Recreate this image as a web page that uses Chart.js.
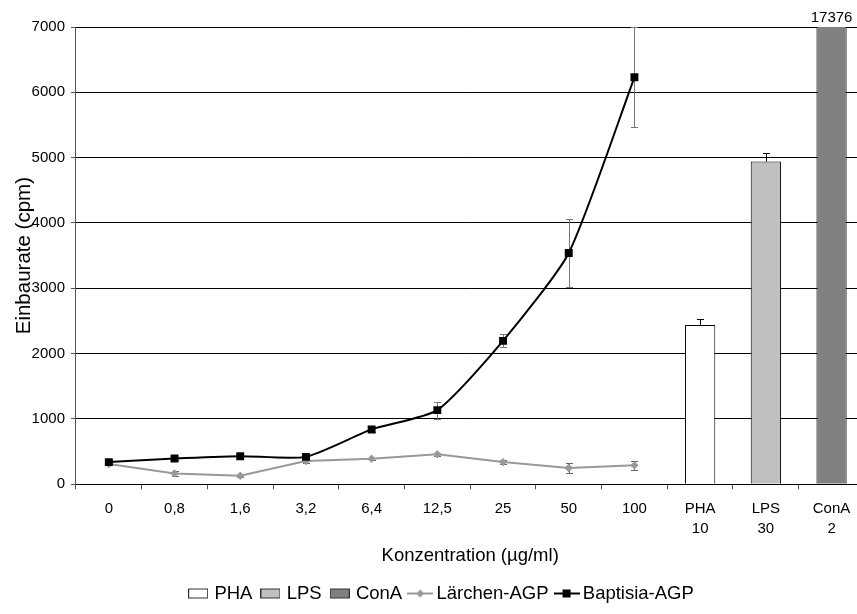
<!DOCTYPE html>
<html>
<head>
<meta charset="utf-8">
<script src="https://cdn.jsdelivr.net/npm/chart.js@4.4.1/dist/chart.umd.min.js"></script>
<style>
html, body { margin: 0; padding: 0; background: #fff; overflow: hidden; }
</style>
</head>
<body>
<canvas id="chart" width="870" height="614"></canvas>
<script>
const categories = ['0', '0,8', '1,6', '3,2', '6,4', '12,5', '25', '50', '100', ['PHA', '10'], ['LPS', '30'], ['ConA', '2']];

const pha      = [null, null, null, null, null, null, null, null, null, 2440, null, null];
const phaErr   = [null, null, null, null, null, null, null, null, null, 90, null, null];
const lps      = [null, null, null, null, null, null, null, null, null, null, 4940, null];
const lpsErr   = [null, null, null, null, null, null, null, null, null, null, 135, null];
const conA     = [null, null, null, null, null, null, null, null, null, null, null, 17376];

const larchen     = [310, 165, 130, 355, 390, 460, 340, 250, 290, null, null, null];
const larchenErr  = [20, 45, 15, 35, 20, 25, 35, 72, 65, null, null, null];
const baptisia    = [340, 395, 430, 420, 840, 1135, 2195, 3540, 6230, null, null, null];
const baptisiaErr = [30, 25, 25, 25, 40, 130, 100, 520, 765, null, null, null];

const yTicks = [0, 1000, 2000, 3000, 4000, 5000, 6000, 7000];

const FONT = '"Liberation Sans", Arial, sans-serif';
Chart.defaults.font.family = FONT;
Chart.defaults.color = '#000';

// little canvases used as legend symbols
function boxIcon(fill) {
    const c = document.createElement('canvas');
    c.width = 20; c.height = 12;
    const g = c.getContext('2d');
    g.fillStyle = fill;
    g.fillRect(1, 1.5, 18, 9);
    g.strokeStyle = '#333';
    g.lineWidth = 1;
    g.strokeRect(0.5, 1.5, 19, 9);
    return c;
}

function lineIcon(color, marker) {
    const c = document.createElement('canvas');
    c.width = 26; c.height = 12;
    const g = c.getContext('2d');
    g.strokeStyle = color;
    g.lineWidth = 2;
    g.beginPath(); g.moveTo(0, 6); g.lineTo(26, 6); g.stroke();
    g.fillStyle = color;
    if (marker === 'square') {
        g.fillRect(9, 2, 8, 8);
    } else {
        g.beginPath(); g.moveTo(13, 2); g.lineTo(17, 6); g.lineTo(13, 10); g.lineTo(9, 6); g.closePath(); g.fill();
    }
    return c;
}

const errorBars = {
    id: 'errorBars',
    beforeDatasetsDraw(chart) {
        const { ctx, scales: { y } } = chart;
        ctx.save();
        chart.data.datasets.forEach((ds, di) => {
            if (!ds.err) return;
            const meta = chart.getDatasetMeta(di);
            ctx.strokeStyle = ds.errColor || '#000';
            ctx.lineWidth = 1;
            ds.data.forEach((v, i) => {
                const e = ds.err[i];
                if (v == null || e == null) return;
                const el = meta.data[i];
                const x = Math.round(el.x) + 0.5;
                const top = Math.round(y.getPixelForValue(v + e)) + 0.5;
                const bot = ds.plusOnly ? y.getPixelForValue(v) : Math.round(y.getPixelForValue(v - e)) + 0.5;
                ctx.beginPath();
                ctx.moveTo(x, top); ctx.lineTo(x, bot);
                ctx.moveTo(x - 3.5, top); ctx.lineTo(x + 3.5, top);
                if (!ds.plusOnly) { ctx.moveTo(x - 3.5, bot); ctx.lineTo(x + 3.5, bot); }
                ctx.stroke();
            });
        });
        ctx.restore();
    }
};

// value of the clipped ConA bar written above it
const clippedLabel = {
    id: 'clippedLabel',
    afterDraw(chart) {
        const { ctx, chartArea } = chart;
        const di = chart.data.datasets.findIndex(d => d.label === 'ConA');
        const meta = chart.getDatasetMeta(di);
        ctx.save();
        ctx.font = '15px ' + FONT;
        ctx.fillStyle = '#000';
        ctx.textAlign = 'center';
        ctx.textBaseline = 'middle';
        conA.forEach((v, i) => {
            if (v == null || v <= yTicks[yTicks.length - 1]) return;
            ctx.fillText(String(v), meta.data[i].x, chartArea.top - 9);
        });
        ctx.restore();
    }
};

const legendItems = [
    { text: 'PHA', icon: boxIcon('#ffffff') },
    { text: 'LPS', icon: boxIcon('#c0c0c0') },
    { text: 'ConA', icon: boxIcon('#808080') },
    { text: 'Lärchen-AGP', icon: lineIcon('#999999', 'diamond') },
    { text: 'Baptisia-AGP', icon: lineIcon('#000000', 'square') }
];

const barStyle = {
    type: 'bar',
    grouped: false,
    borderColor: '#000',
    borderWidth: 1,
    borderSkipped: 'start',
    categoryPercentage: 1,
    barPercentage: 0.46,
    order: 3,
    plusOnly: true,
    errColor: '#000'
};

new Chart(document.getElementById('chart'), {
    type: 'bar',
    data: {
        labels: categories,
        datasets: [
            { ...barStyle, label: 'PHA', data: pha, err: phaErr, backgroundColor: '#ffffff' },
            { ...barStyle, label: 'LPS', data: lps, err: lpsErr, backgroundColor: '#c0c0c0' },
            { ...barStyle, label: 'ConA', data: conA, backgroundColor: '#808080' },
            {
                type: 'line', label: 'Lärchen-AGP', data: larchen, err: larchenErr, errColor: '#666',
                borderColor: '#999999', backgroundColor: '#999999', borderWidth: 2,
                pointStyle: 'rectRot', pointRadius: 4.2, pointBorderWidth: 0, tension: 0, order: 1
            },
            {
                type: 'line', label: 'Baptisia-AGP', data: baptisia, err: baptisiaErr, errColor: '#777',
                borderColor: '#000', backgroundColor: '#000', borderWidth: 2,
                pointStyle: 'rect', pointRadius: 5.6, pointBorderWidth: 0,
                tension: 0.2, order: 0
            }
        ]
    },
    options: {
        responsive: false,
        devicePixelRatio: 1,
        animation: false,
        layout: { padding: { left: 16, right: 1, top: 27, bottom: 1.25 } },
        plugins: {
            tooltip: { enabled: false },
            legend: {
                position: 'bottom',
                labels: {
                    usePointStyle: true,
                    pointStyleWidth: 14,
                    padding: 11,
                    color: '#000',
                    font: { size: 18.5 },
                    generateLabels: () => legendItems.map((it, i) => ({
                        text: it.text,
                        pointStyle: it.icon,
                        fillStyle: '#fff',
                        strokeStyle: '#000',
                        lineWidth: 0,
                        hidden: false,
                        datasetIndex: i,
                        fontColor: '#000'
                    }))
                }
            }
        },
        scales: {
            x: {
                offset: true,
                grid: { offset: true, drawOnChartArea: false, drawTicks: true, tickLength: 5, color: '#555' },
                border: { color: '#000' },
                ticks: { autoSkip: false, maxRotation: 0, padding: 9.7, color: '#000', font: { size: 15, lineHeight: 20 / 15 } },
                title: { display: true, text: 'Konzentration (µg/ml)', color: '#000', font: { size: 18.5 }, padding: { top: -3.65, bottom: 6 } }
            },
            y: {
                min: yTicks[0],
                max: yTicks[yTicks.length - 1],
                afterBuildTicks: axis => { axis.ticks = yTicks.map(v => ({ value: v })); },
                grid: { color: '#000', lineWidth: 1, tickLength: 5, tickColor: '#555' },
                border: { color: '#555' },
                ticks: { padding: 6, color: '#000', font: { size: 15 }, callback: v => String(v) },
                title: { display: true, text: 'Einbaurate (cpm)', color: '#000', font: { size: 20.5 }, padding: { top: -4.3, bottom: -10.7 } }
            }
        }
    },
    plugins: [errorBars, clippedLabel]
});
</script>
</body>
</html>
